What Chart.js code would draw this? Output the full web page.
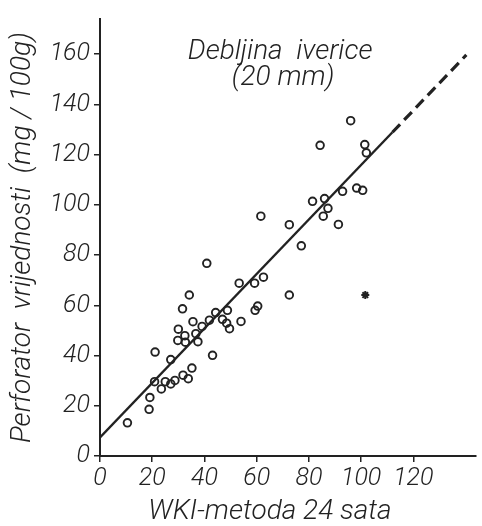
<!DOCTYPE html>
<html>
<head>
<meta charset="utf-8">
<script src="https://cdn.jsdelivr.net/npm/chart.js@4.4.1/dist/chart.umd.min.js"></script>
<style>
  html, body { margin: 0; padding: 0; background: #fff; }
  canvas { display: block; }
</style>
</head>
<body>
<canvas id="scatterChart" width="482" height="526"></canvas>
<script>
// measured points: WKI-metoda 24 sata (x) vs perforator (y)
const wkiValues = [
  10.5, 18.8, 19.1, 20.9, 21.1, 23.5, 25.0, 27.1, 28.7, 27.1,
  31.8, 33.8, 35.2, 29.8, 32.7, 30.0, 32.5, 31.6, 34.2, 36.7,
  35.6, 37.5, 39.1, 40.9, 43.1, 41.9, 44.3, 46.9, 48.5, 48.8,
  49.6, 53.3, 54.0, 59.2, 62.6, 60.4, 59.4, 61.6, 72.5, 72.5,
  77.1, 81.4, 86.0, 87.3, 85.5, 91.3, 92.9, 98.3, 100.6, 84.3,
  96.0, 101.4, 102.0
];
const perforatorValues = [
  13.2, 18.6, 23.3, 29.6, 41.4, 26.7, 29.6, 28.7, 30.1, 38.4,
  32.2, 30.8, 35.0, 46.0, 45.3, 50.5, 47.9, 58.6, 64.1, 48.7,
  53.5, 45.5, 51.6, 76.7, 40.1, 54.1, 57.1, 54.4, 52.9, 58.0,
  50.7, 68.8, 53.6, 68.8, 71.2, 59.7, 58.0, 95.5, 92.1, 64.1,
  83.7, 101.4, 102.5, 98.6, 95.5, 92.2, 105.4, 106.7, 105.8, 123.7,
  133.5, 124.0, 120.7
];

// the one point marked differently
const outlierX = [101.6];
const outlierY = [64.1];

// regression line, solid part and dashed extension
const fitX = [0, 112];
const fitY = [7.4, 128.9];
const extX = [112, 140.3];
const extY = [128.9, 159.7];

const xTicks = [0, 20, 40, 60, 80, 100, 120];
const yTicks = [0, 20, 40, 60, 80, 100, 120, 140, 160];

const toPoints = (xs, ys) => xs.map((x, i) => ({ x: x, y: ys[i] }));

const ink = "#222";
const family = "Roboto, 'Liberation Sans', sans-serif";
const labelFont = { family: family, size: 25, style: "italic", weight: 300 };
const titleFont = { family: family, size: 28, style: "italic", weight: 300 };

// caption inside the plot and the x axis title
const captionPlugin = {
  id: "caption",
  afterDraw(chart) {
    const { ctx, scales } = chart;
    const cx = scales.x.getPixelForValue(69);
    ctx.save();
    ctx.fillStyle = ink;
    ctx.font = "italic 300 28px " + family;
    ctx.textAlign = "center";
    ctx.textBaseline = "middle";
    ctx.fillText("Debljina  iverice", cx, scales.y.getPixelForValue(161));
    ctx.fillText("(20 mm)", cx + 3, scales.y.getPixelForValue(150.5));
    ctx.fillText("WKI-metoda 24 sata", 270, 512);
    ctx.restore();
  }
};

const ctx = document.getElementById("scatterChart").getContext("2d");

new Chart(ctx, {
  type: "scatter",
  data: {
    datasets: [
      {
        label: "Mjerenja",
        data: toPoints(wkiValues, perforatorValues),
        pointStyle: "circle",
        pointRadius: 3.8,
        pointBorderWidth: 1.9,
        pointBorderColor: ink,
        pointBackgroundColor: "rgba(255,255,255,0)"
      },
      {
        label: "Odstupanje",
        data: toPoints(outlierX, outlierY),
        pointStyle: "star",
        pointRadius: 4,
        pointBorderWidth: 2,
        pointBorderColor: ink
      },
      {
        label: "Regresija",
        type: "line",
        data: toPoints(fitX, fitY),
        borderColor: ink,
        borderWidth: 2.4,
        pointRadius: 0
      },
      {
        label: "Ekstrapolacija",
        type: "line",
        data: toPoints(extX, extY),
        borderColor: ink,
        borderWidth: 3.2,
        borderDash: [11, 6],
        pointRadius: 0
      }
    ]
  },
  options: {
    responsive: false,
    animation: false,
    devicePixelRatio: 1,
    layout: { padding: { top: 13, right: 0, left: 0, bottom: 0 } },
    plugins: {
      legend: { display: false },
      tooltip: { enabled: false }
    },
    scales: {
      x: {
        type: "linear",
        min: 0,
        max: 144,
        afterBuildTicks: (scale) => { scale.ticks = xTicks.map(v => ({ value: v })); },
        afterFit: (scale) => { scale.height = 70; },
        border: { color: ink, width: 2 },
        grid: { drawOnChartArea: false, drawTicks: true, tickLength: 6, color: ink, lineWidth: 1.5 },
        ticks: { color: ink, font: labelFont, padding: 2, maxRotation: 0 },
        title: { display: false, text: "WKI-metoda 24 sata" }
      },
      y: {
        type: "linear",
        min: 0,
        max: 174,
        afterBuildTicks: (scale) => { scale.ticks = yTicks.map(v => ({ value: v })); },
        afterFit: (scale) => { scale.width = 100; },
        border: { color: ink, width: 2 },
        grid: { drawOnChartArea: false, drawTicks: true, tickLength: 6, color: ink, lineWidth: 1.5 },
        ticks: { color: ink, font: labelFont, padding: 4 },
        title: { display: true, text: "Perforator  vrijednosti  (mg / 100g)", color: ink, font: titleFont, padding: { top: 6, bottom: 0 } }
      }
    }
  },
  plugins: [captionPlugin]
});
</script>
</body>
</html>
